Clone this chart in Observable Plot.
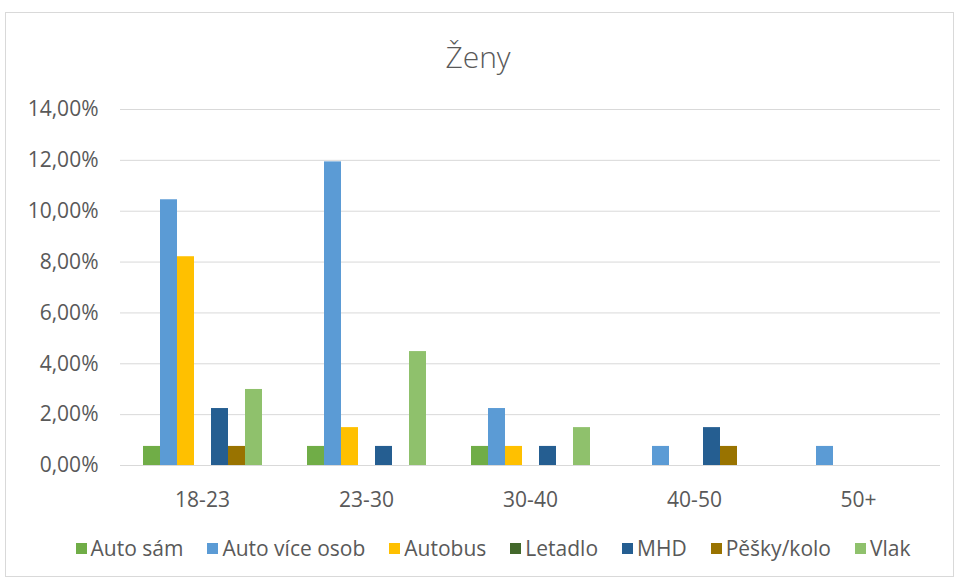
<!DOCTYPE html>
<html>
<head>
<meta charset="utf-8">
<script src="https://cdn.jsdelivr.net/npm/d3@7"></script>
<script src="https://cdn.jsdelivr.net/npm/@observablehq/plot@0.6"></script>
<style>
  html, body { margin: 0; padding: 0; background: #fff; }
  #wrap { position: relative; width: 956px; height: 581px; font-family: "Open Sans", sans-serif; color: #595959; }
  #frame { position: absolute; left: 5px; top: 12px; width: 949px; height: 565px; border: 1px solid #d9d9d9; box-sizing: border-box; pointer-events: none; }
  #title { height: 90px; box-sizing: border-box; padding-top: 38px; line-height: 38px; text-align: center; font-size: 30px; font-weight: 300; }
  #legend { display: flex; justify-content: center; gap: 24px; margin-top: 21px; padding-left: 30px; font-size: 21px; line-height: 24px; }
  .item { display: flex; align-items: center; gap: 4px; }
  .sw { width: 11px; height: 11px; display: inline-block; }
</style>
</head>
<body>
<div id="wrap">
  <div id="frame"></div>
  <div id="title">Ženy</div>
  <div id="chart"></div>
  <div id="legend"></div>
</div>
<script>
const categories = ["18-23", "23-30", "30-40", "40-50", "50+"];
const series = ["Auto sám", "Auto více osob", "Autobus", "Letadlo", "MHD", "Pěšky/kolo", "Vlak"];
const colors = ["#70AD47", "#5B9BD5", "#FFC000", "#43682B", "#255E91", "#997300", "#8FC16C"];
// values in percent, one array per series (order = categories)
const autoSam      = [0.75, 0.75, 0.75, 0, 0];
const autoViceOsob = [10.45, 11.94, 2.24, 0.75, 0.75];
const autobus      = [8.21, 1.49, 0.75, 0, 0];
const letadlo      = [0, 0, 0, 0, 0];
const mhd          = [2.24, 0.75, 0.75, 1.49, 0];
const peskyKolo    = [0.75, 0, 0, 0.75, 0];
const vlak         = [2.99, 4.48, 1.49, 0, 0];
const yTicks = [0, 2, 4, 6, 8, 10, 12, 14];

const seriesValues = [autoSam, autoViceOsob, autobus, letadlo, mhd, peskyKolo, vlak];
const data = [];
categories.forEach((c, ci) => {
  series.forEach((s, si) => {
    data.push({category: c, series: s, value: seriesValues[si][ci]});
  });
});

const fmt = d => d.toFixed(2).replace(".", ",") + "%";

const chart = Plot.plot({
  width: 956,
  height: 425,
  marginTop: 19,
  marginBottom: 50,
  marginLeft: 120,
  marginRight: 16,
  style: {fontFamily: "'Open Sans', sans-serif", fontSize: "21px", color: "#595959", background: "transparent"},
  fx: {domain: categories, padding: 0, paddingInner: 0, paddingOuter: 0, label: null},
  x: {domain: series, paddingInner: 0, paddingOuter: 1.09, axis: null},
  y: {domain: [0, 14], label: null},
  color: {domain: series, range: colors},
  marks: [
    Plot.gridY(yTicks, {stroke: "#d9d9d9", strokeOpacity: 1, strokeWidth: 1}),
    Plot.barY(data, {fx: "category", x: "series", y: "value", fill: "series"}),
    Plot.axisY({ticks: yTicks, tickFormat: fmt, tickSize: 0, tickPadding: 22, fill: "#595959", fontSize: 21, label: null}),
    Plot.axisFx({anchor: "bottom", tickSize: 0, tickPadding: 27, fill: "#595959", fontSize: 21, label: null})
  ]
});
document.getElementById("chart").appendChild(chart);

const legend = document.getElementById("legend");
series.forEach((s, i) => {
  const item = document.createElement("div");
  item.className = "item";
  const sw = document.createElement("span");
  sw.className = "sw";
  sw.style.background = colors[i];
  const t = document.createElement("span");
  t.textContent = s;
  item.appendChild(sw);
  item.appendChild(t);
  legend.appendChild(item);
});
</script>
</body>
</html>
